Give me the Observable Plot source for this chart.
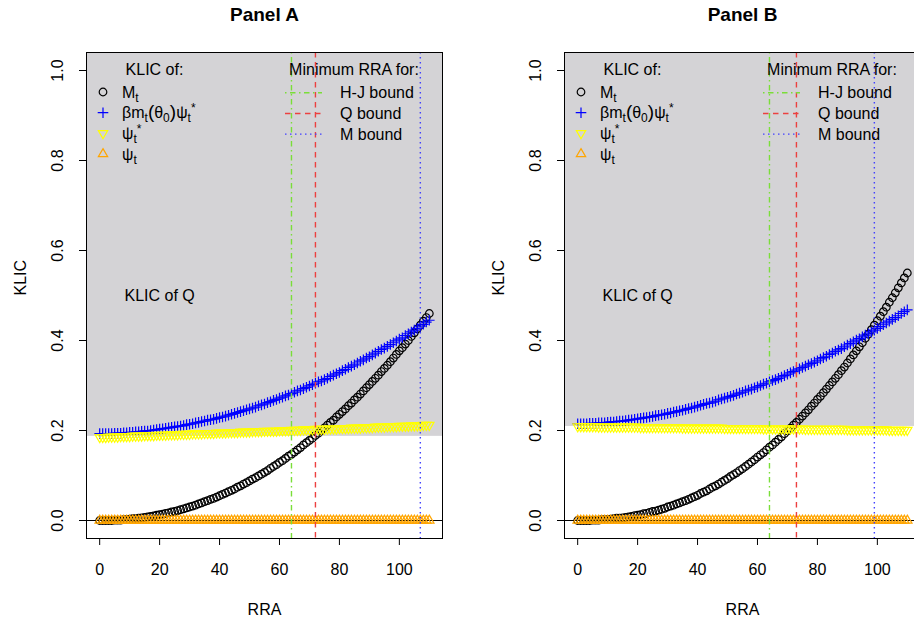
<!DOCTYPE html>
<html><head><meta charset="utf-8">
<script src="https://cdn.jsdelivr.net/npm/d3@7"></script>
<script src="https://cdn.jsdelivr.net/npm/@observablehq/plot@0.6"></script>
<style>
html,body{margin:0;padding:0;background:#fff;}
body{width:914px;height:622px;overflow:hidden;position:relative;}
.panel{position:absolute;top:0;width:478px;height:622px;}
</style></head><body>
<div id="pa" class="panel" style="left:0"></div>
<div id="pb" class="panel" style="left:478px"></div>
<script>
// ---------------- data ----------------
const rra = [0,1,2,3,4,5,6,7,8,9,10,11,12,13,14,15,16,17,18,19,20,21,22,23,24,25,26,27,28,29,
30,31,32,33,34,35,36,37,38,39,40,41,42,43,44,45,46,47,48,49,50,51,52,53,54,55,56,57,58,59,
60,61,62,63,64,65,66,67,68,69,70,71,72,73,74,75,76,77,78,79,80,81,82,83,84,85,86,87,88,89,
90,91,92,93,94,95,96,97,98,99,100,101,102,103,104,105,106,107,108,109,110];

// Panel A
const mA = [.000,.000,.000,.000,.000,.001,.001,.001,.002,.002,
.003,.004,.004,.005,.006,.007,.008,.009,.010,.012,
.013,.014,.016,.017,.019,.020,.022,.024,.026,.028,
.030,.032,.034,.037,.039,.042,.044,.047,.049,.052,
.055,.058,.061,.064,.067,.070,.074,.077,.081,.084,
.088,.092,.095,.099,.103,.107,.111,.116,.120,.124,
.129,.133,.138,.143,.147,.152,.157,.162,.168,.173,
.178,.183,.189,.194,.200,.206,.212,.218,.223,.230,
.236,.242,.248,.255,.261,.268,.274,.281,.288,.295,
.302,.309,.316,.323,.331,.338,.345,.353,.361,.369,
.377,.384,.392,.400,.409,.417,.426,.434,.443,.451,.460];
const betaA = [.193,.193,.193,.193,.193,.194,.194,.194,.195,.195,
.196,.196,.197,.197,.198,.199,.199,.200,.201,.202,
.203,.204,.205,.206,.207,.208,.209,.210,.211,.213,
.214,.215,.217,.218,.220,.221,.223,.224,.225,.227,
.229,.230,.232,.234,.236,.238,.240,.242,.244,.246,
.248,.250,.252,.255,.257,.259,.262,.264,.267,.269,
.272,.274,.277,.279,.282,.285,.288,.290,.293,.296,
.299,.302,.305,.308,.310,.313,.316,.320,.323,.326,
.329,.333,.336,.340,.343,.346,.350,.354,.357,.361,
.364,.368,.372,.376,.380,.383,.387,.391,.395,.399,
.403,.406,.411,.415,.419,.423,.427,.432,.436,.441,.445];
const psiStarA = [.185,.185,.185,.186,.186,.186,.186,.187,.187,.187,
.187,.188,.188,.188,.188,.189,.189,.189,.189,.190,
.190,.190,.190,.191,.191,.191,.191,.192,.192,.192,
.192,.193,.193,.193,.193,.194,.194,.194,.194,.195,
.195,.195,.195,.196,.196,.196,.196,.197,.197,.197,
.197,.198,.198,.198,.198,.199,.199,.199,.199,.199,
.200,.200,.200,.200,.201,.201,.201,.201,.202,.202,
.202,.202,.203,.203,.203,.203,.204,.204,.204,.204,
.205,.205,.205,.205,.206,.206,.206,.206,.207,.207,
.207,.207,.208,.208,.208,.208,.209,.209,.209,.209,
.210,.210,.210,.210,.211,.211,.211,.211,.212,.212,.212];
const psiA = [0,0,0,0,0,0,0,0,0,0,0,0,0,0,0,0,0,0,0,0,0,0,0,0,0,0,0,0,0,0,
0,0,0,0,0,0,0,0,0,0,0,0,0,0,0,0,0,0,0,0,0,0,0,0,0,0,0,0,0,0,
0,0,0,0,0,0,0,0,0,0,0,0,0,0,0,0,0,0,0,0,0,0,0,0,0,0,0,0,0,0,
0,0,0,0,0,0,0,0,0,0,0,0,0,0,0,0,0,0,0,0,0];

// Panel B
const mB = [.000,.000,.000,.000,.000,.001,.001,.001,.002,.002,
.002,.003,.004,.005,.005,.006,.007,.008,.009,.011,
.012,.013,.015,.016,.018,.020,.021,.023,.025,.027,
.030,.032,.034,.037,.039,.042,.044,.047,.050,.053,
.056,.060,.063,.066,.070,.074,.077,.081,.085,.089,
.093,.098,.102,.106,.111,.115,.120,.125,.130,.135,
.141,.146,.151,.157,.163,.168,.174,.180,.186,.193,
.199,.205,.212,.218,.225,.232,.239,.246,.254,.261,
.269,.276,.284,.292,.300,.308,.316,.324,.333,.341,
.350,.359,.368,.377,.386,.395,.405,.414,.424,.434,
.444,.454,.464,.474,.485,.495,.506,.517,.528,.539,.550];
const betaB = [.215,.215,.215,.215,.216,.216,.216,.217,.217,.217,
.218,.219,.219,.220,.221,.221,.222,.223,.224,.225,
.226,.227,.228,.229,.230,.231,.233,.234,.235,.236,
.238,.239,.241,.242,.244,.245,.247,.249,.250,.252,
.254,.256,.258,.260,.261,.263,.265,.268,.270,.272,
.274,.276,.278,.281,.283,.285,.288,.290,.292,.295,
.297,.300,.303,.305,.308,.311,.313,.316,.319,.322,
.325,.328,.331,.334,.337,.340,.343,.346,.349,.352,
.355,.359,.362,.365,.369,.372,.376,.379,.382,.386,
.390,.393,.397,.401,.404,.408,.412,.415,.419,.423,
.427,.431,.435,.439,.443,.447,.451,.455,.460,.464,.468];
const psiStarB = [.209,.209,.209,.209,.209,.209,.209,.208,.208,.208,
.208,.208,.208,.208,.208,.208,.208,.208,.208,.208,
.208,.207,.207,.207,.207,.207,.207,.207,.207,.207,
.207,.207,.207,.207,.207,.206,.206,.206,.206,.206,
.206,.206,.206,.206,.206,.206,.206,.206,.206,.205,
.205,.205,.205,.205,.205,.205,.205,.205,.205,.205,
.205,.205,.204,.204,.204,.204,.204,.204,.204,.204,
.204,.204,.204,.204,.204,.204,.203,.203,.203,.203,
.203,.203,.203,.203,.203,.203,.203,.203,.203,.203,
.202,.202,.202,.202,.202,.202,.202,.202,.202,.202,
.202,.202,.202,.202,.201,.201,.201,.201,.201,.201,.201];
const psiB = [0,0,0,0,0,0,0,0,0,0,0,0,0,0,0,0,0,0,0,0,0,0,0,0,0,0,0,0,0,0,
0,0,0,0,0,0,0,0,0,0,0,0,0,0,0,0,0,0,0,0,0,0,0,0,0,0,0,0,0,0,
0,0,0,0,0,0,0,0,0,0,0,0,0,0,0,0,0,0,0,0,0,0,0,0,0,0,0,0,0,0,
0,0,0,0,0,0,0,0,0,0,0,0,0,0,0,0,0,0,0,0,0];

const klicQA = 0.187, klicQB = 0.209;          // KLIC of Q (shaded region floor)
const boundsA = [64, 72, 107], boundsB = [64, 73, 99]; // H-J, Q, M minimum RRA
const boundNames = ["H-J bound", "Q bound", "M bound"];
const xTicks = [0, 20, 40, 60, 80, 100];
const yTicks = [0, 0.2, 0.4, 0.6, 0.8, 1.0];
const yTickLabels = ["0.0", "0.2", "0.4", "0.6", "0.8", "1.0"];
const xDomain = [-4.4, 114.4], yDomain = [-0.04, 1.04];
const labelPos = [{x: 20, y: 0.5, text: "KLIC of Q"}];

// ---------------- styles ----------------
const FONT = "'Liberation Sans', Arial, Helvetica, sans-serif";
const boundColors = ["#7ade38", "#ec4040", "#4040ff"];
const boundDash = ["1.5,3.5,5.5,3.5", "5.5,4.5", "1.5,3.5"];
const seriesColors = {M: "#000000", B: "#0000ff", Y: "#ffff00", O: "#ffa500"};
const shade = "#d4d3d6";

const circSym = {draw(c){ const r = 3.8; c.moveTo(r, 0); c.arc(0, 0, r, 0, 2 * Math.PI); c.closePath(); }};
const plusSym = {draw(c){ const h = 5.3; c.moveTo(-h, 0); c.lineTo(h, 0); c.moveTo(0, -h); c.lineTo(0, h); }};
const triDown = {draw(c){ const R = 5.4; c.moveTo(0, R); c.lineTo(R * 0.866, -R / 2); c.lineTo(-R * 0.866, -R / 2); c.closePath(); }};
const triUp = {draw(c){ const R = 5.4; c.moveTo(0, -R); c.lineTo(R * 0.866, R / 2); c.lineTo(-R * 0.866, R / 2); c.closePath(); }};

function richText(g, x, y, parts) {
  const t = g.append("text").attr("x", x).attr("y", y).attr("text-anchor", "start");
  let cur = 0;
  for (const [s, kind] of parts) {
    const off = kind === "sub" ? 4 : kind === "sup" ? -6 : 0;
    const fs = (kind === "sub" || kind === "sup") ? 12 : kind === "big" ? 19 : 16;
    t.append("tspan").attr("dy", off - cur).attr("font-size", fs).text(s);
    cur = off;
  }
  return t;
}

function panel(id, title, d, q, b) {
  const data = rra.map((x, i) => ({x, M: d.M[i], B: d.B[i], Y: d.Y[i], O: d.O[i]}));
  const dotOpts = (key, sym) => ({x: "x", y: key, symbol: sym, r: 4, stroke: seriesColors[key], fill: "none", strokeWidth: 1.2});
  const svg = Plot.plot({
    width: 478, height: 622, marginLeft: 86, marginRight: 36, marginTop: 52, marginBottom: 84,
    x: {domain: xDomain, axis: null}, y: {domain: yDomain, axis: null},
    style: {fontFamily: FONT, fontSize: "16px", color: "black", background: "white", overflow: "visible"},
    marks: [
      Plot.rect([q], {x1: xDomain[0], x2: xDomain[1], y1: v => v, y2: yDomain[1], fill: shade}),
      Plot.ruleY([0], {stroke: "black", strokeWidth: 1}),
      Plot.dot(data, dotOpts("M", circSym)),
      Plot.dot(data, dotOpts("B", plusSym)),
      Plot.dot(data, dotOpts("Y", triDown)),
      Plot.dot(data, dotOpts("O", triUp)),
      ...b.map((v, i) => Plot.ruleX([v], {stroke: boundColors[i], strokeDasharray: boundDash[i], strokeWidth: 1.4})),
      Plot.frame({stroke: "black"}),
      Plot.axisX({ticks: xTicks, tickSize: 7, tickPadding: 18, label: null, tickFormat: v => String(v)}),
      Plot.axisY({ticks: yTicks, tickSize: 7, label: null, tickFormat: () => ""}),
      Plot.text(yTicks, {y: v => v, text: (v, i) => yTickLabels[i], frameAnchor: "left", dx: -24, rotate: -90, lineAnchor: "bottom", textAnchor: "middle"}),
      Plot.text(labelPos, {x: "x", y: "y", text: "text", lineAnchor: "middle"}),
      Plot.text(["RRA"], {text: v => v, frameAnchor: "bottom", dy: 65, lineAnchor: "top"}),
      Plot.text(["KLIC"], {text: v => v, frameAnchor: "left", dx: -61, rotate: -90, lineAnchor: "bottom"}),
      Plot.text([title], {text: v => v, frameAnchor: "top", dy: -45, lineAnchor: "top", fontWeight: "bold", fontSize: 19})
    ]
  });

  // legends
  const g = d3.select(svg).append("g").attr("font-family", FONT).attr("font-size", 16)
    .attr("fill", "black").attr("text-anchor", "start");
  g.append("text").attr("x", 154.5).attr("y", 75).attr("text-anchor", "middle").text("KLIC of:");
  const items = [
    {sym: circSym, color: seriesColors.M, parts: [["M"], ["t", "sub"]]},
    {sym: plusSym, color: seriesColors.B, parts: [["β"], ["m"], ["t", "sub"], ["(", "big"], ["θ"], ["0", "sub"], [")", "big"], ["ψ"], ["t", "sub"], ["*", "sup"]]},
    {sym: triDown, color: seriesColors.Y, parts: [["ψ"], ["t", "sub"], ["*", "sup"]]},
    {sym: triUp, color: seriesColors.O, parts: [["ψ"], ["t", "sub"]]}
  ];
  const rows = [92, 112.7, 133.3, 154];
  items.forEach((it, i) => {
    g.append("path").attr("d", d3.symbol().type(it.sym).size(1)()).attr("transform", `translate(103,${rows[i]})`)
      .attr("fill", "none").attr("stroke", it.color).attr("stroke-width", 1.2);
    richText(g, 122, rows[i] + 5.5, it.parts);
  });
  g.append("text").attr("x", 354).attr("y", 75).attr("text-anchor", "middle").text("Minimum RRA for:");
  boundNames.forEach((nm, i) => {
    const y = rows[i] + 0.8;
    g.append("line").attr("x1", 285).attr("x2", 322).attr("y1", y).attr("y2", y)
      .attr("stroke", boundColors[i]).attr("stroke-dasharray", boundDash[i]).attr("stroke-width", 1.4);
    g.append("text").attr("x", 340).attr("y", y + 5.5).attr("text-anchor", "start").text(nm);
  });
  document.getElementById(id).appendChild(svg);
}

panel("pa", "Panel A", {M: mA, B: betaA, Y: psiStarA, O: psiA}, klicQA, boundsA);
panel("pb", "Panel B", {M: mB, B: betaB, Y: psiStarB, O: psiB}, klicQB, boundsB);
</script>
</body></html>
